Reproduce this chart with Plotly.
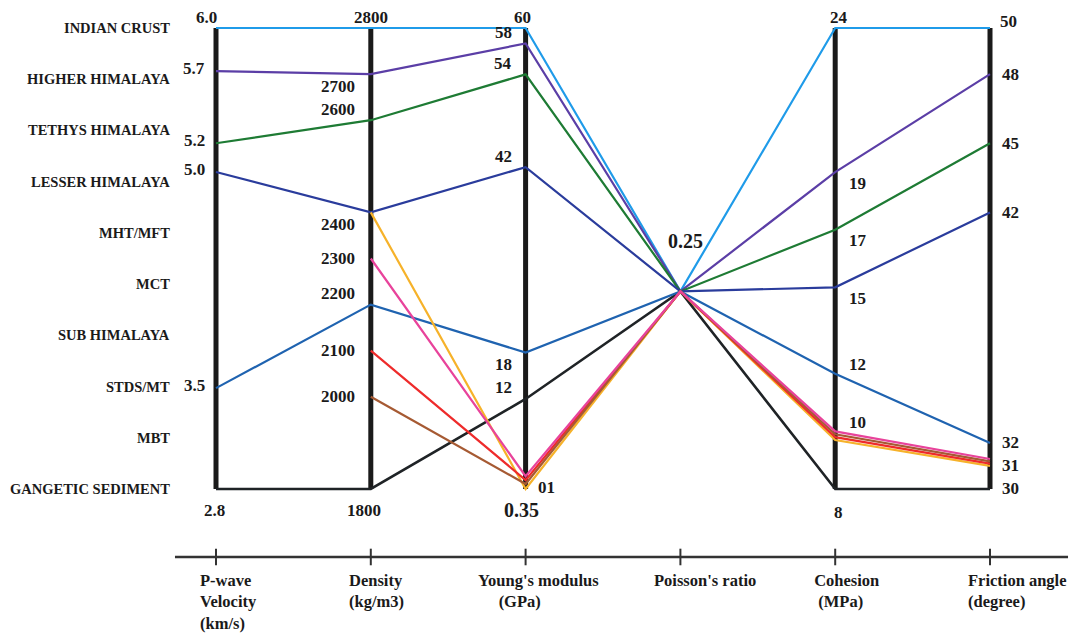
import plotly.graph_objects as go

# ---------------- data ----------------
units = ["INDIAN CRUST", "HIGHER HIMALAYA", "TETHYS HIMALAYA", "LESSER HIMALAYA",
         "MHT/MFT", "MCT", "SUB HIMALAYA", "STDS/MT", "MBT", "GANGETIC SEDIMENT"]

p_wave = [6.0, 5.7, 5.2, 5.0, None, None, 3.5, None, None, 2.8]
density = [2800, 2700, 2600, 2400, 2400, 2300, 2200, 2100, 2000, 1800]
youngs = [60, 58, 54, 42, 0.35, 2.0, 18, 1.5, 1.0, 12]
poisson = [0.25, 0.25, 0.25, 0.25, 0.25, 0.25, 0.25, 0.25, 0.25, 0.25]
cohesion = [24, 19, 17, 15, 9.7, 10.0, 12, 9.8, 9.9, 8]
friction = [50, 48, 45, 42, 31.0, 31.3, 32, 31.1, 31.2, 30]

axis_titles = ["P-wave<br>Velocity<br>(km/s)", "Density<br>(kg/m3)",
               "Young's modulus<br>&nbsp;&nbsp;&nbsp;&nbsp;&nbsp;(GPa)", "Poisson's ratio",
               "&nbsp;Cohesion<br>&nbsp;&nbsp;(MPa)", "Friction angle<br>(degree)"]
axis_min = [2.8, 1800, 0.35, 0.10, 8, 30]
axis_max = [6.0, 2800, 60, 0.45, 24, 50]

pwave_ticks = [6.0, 5.7, 5.2, 5.0, 3.5, 2.8]
pwave_text = ["6.0", "5.7", "5.2", "5.0", "3.5", "2.8"]
density_ticks = [2800, 2700, 2600, 2400, 2300, 2200, 2100, 2000, 1800]
density_text = ["2800", "2700", "2600", "2400", "2300", "2200", "2100", "2000", "1800"]
youngs_ticks = [60, 58, 54, 42, 18, 12, 1.0, 0.35]
youngs_text = ["60", "58", "54", "42", "18", "12", "01", "0.35"]
poisson_ticks = [0.25]
poisson_text = ["0.25"]
cohesion_ticks = [24, 19, 17, 15, 12, 10, 8]
cohesion_text = ["24", "19", "17", "15", "12", "10", "8"]
friction_ticks = [50, 48, 45, 42, 32, 31, 30]
friction_text = ["50", "48", "45", "42", "32", "31", "30"]

# ---------------- styles ----------------
colors = ["#1f9be9", "#5b3ea6", "#1e7b34", "#2a3c9c", "#f6b22a",
          "#e8439b", "#1f63b0", "#ee2b2b", "#a65a33", "#1f2326"]
FONT = "Liberation Serif"
INK = "#1a1a1a"

dims = [p_wave, density, youngs, poisson, cohesion, friction]
ticks = [pwave_ticks, density_ticks, youngs_ticks, poisson_ticks, cohesion_ticks, friction_ticks]
tick_texts = [pwave_text, density_text, youngs_text, poisson_text, cohesion_text, friction_text]


def scale(k, v):
    if v is None:
        return None
    return (v - axis_min[k]) / (axis_max[k] - axis_min[k])


def incoming_from_above(k, v):
    """True if the line reaching value v on axis k comes from a higher point on axis k-1."""
    for i in range(len(units)):
        if dims[k][i] == v and dims[k - 1][i] is not None:
            return scale(k - 1, dims[k - 1][i]) >= scale(k, v)
    return None


fig = go.Figure()

# lines (black sediment first so coloured lines sit on top)
order = [9, 0, 1, 2, 3, 6, 4, 7, 8, 5]
for i in order:
    fig.add_trace(go.Scatter(
        x=list(range(len(dims))),
        y=[scale(k, dims[k][i]) for k in range(len(dims))],
        mode="lines",
        line=dict(color=colors[i], width=2.6 if i == 9 else 2.2),
        name=units[i],
        connectgaps=False,
        hoverinfo="name",
    ))

shapes = []
# vertical axes (no visible axis for Poisson's ratio)
for k in [0, 1, 2, 4, 5]:
    shapes.append(dict(type="line", xref="x", yref="y", x0=k, x1=k, y0=0, y1=1,
                       line=dict(color=INK, width=5), layer="below"))

# bottom category axis
BASE = -0.1475
shapes.append(dict(type="line", xref="x", yref="y", x0=-0.265, x1=5.504, y0=BASE, y1=BASE,
                   line=dict(color="#333333", width=2.5)))
for k in range(len(dims)):
    shapes.append(dict(type="line", xref="x", yref="y", x0=k, x1=k,
                       y0=BASE - 0.018, y1=BASE + 0.018,
                       line=dict(color="#333333", width=2)))

annotations = []


def add_label(x, y, text, size=17, **kw):
    annotations.append(dict(x=x, y=y, xref="x", yref="y", text=text, showarrow=False,
                            font=dict(family=FONT, size=size, color=INK, weight="bold"), **kw))


for k in range(len(dims)):
    for v, t in zip(ticks[k], tick_texts[k]):
        n = scale(k, v)
        top = n >= 0.999
        bot = n <= 0.001
        if k == 0:
            if top:
                add_label(k, n, t, xanchor="center", yanchor="middle", xshift=-10, yshift=11)
            elif bot:
                add_label(k, n, t, xanchor="center", yanchor="top", xshift=-2, yshift=-10)
            else:
                add_label(k, n, t, xanchor="right", yanchor="middle", xshift=-9, yshift=3)
        elif k == 1:
            if top:
                add_label(k, n, t, xanchor="center", yanchor="middle", xshift=0, yshift=11)
            elif bot:
                add_label(k, n, t, xanchor="center", yanchor="top", xshift=-7, yshift=-10)
            else:
                above = incoming_from_above(k, v)
                if above is None:
                    dy = 0
                else:
                    dy = -12 if above else 11
                add_label(k, n, t, xanchor="right", yanchor="middle", xshift=-14, yshift=dy)
        elif k == 2:
            if top:
                add_label(k, n, t, xanchor="center", yanchor="middle", xshift=-3, yshift=11)
            elif bot:
                add_label(k, n, t, size=20, xanchor="center", yanchor="top", xshift=-4, yshift=-8)
            elif n < 0.1:
                add_label(k, n, t, xanchor="left", yanchor="middle", xshift=10, yshift=-4)
            else:
                above = incoming_from_above(k, v)
                add_label(k, n, t, xanchor="right", yanchor="middle", xshift=-12,
                          yshift=-12 if above else 11)
        elif k == 3:
            add_label(k, n, t, size=20, xanchor="center", yanchor="middle", xshift=5, yshift=50)
        elif k == 4:
            if top:
                add_label(k, n, t, xanchor="center", yanchor="middle", xshift=4, yshift=11)
            elif bot:
                add_label(k, n, t, xanchor="center", yanchor="top", xshift=3, yshift=-12)
            else:
                idx = [i for i in range(len(units)) if cohesion[i] == v][0]
                rising = scale(5, friction[idx]) > n
                add_label(k, n, t, xanchor="left", yanchor="middle", xshift=12,
                          yshift=-11 if rising else 9)
        else:
            if top:
                add_label(k, n, t, xanchor="left", yanchor="middle", xshift=8, yshift=7)
            else:
                add_label(k, n, t, xanchor="left", yanchor="middle", xshift=10, yshift=0)

# unit names, listed down the left side
for j, name in enumerate(units):
    add_label(0, 1 - j / (len(units) - 1), name, size=14.5, xanchor="right",
              yanchor="middle", xshift=-44)

# axis titles under the baseline
title_shift = [-18, -24, -50, -28, -27, -24]
for k, t in enumerate(axis_titles):
    annotations.append(dict(x=k, y=BASE, xref="x", yref="y", text=t, showarrow=False,
                            xanchor="left", yanchor="top", align="left",
                            xshift=title_shift[k], yshift=-12,
                            font=dict(family=FONT, size=16.5, color=INK, weight="bold")))

# page has an 8px body margin, so the figure is 16px smaller than the window
fig.update_layout(
    width=1075, height=625,
    margin=dict(l=0, r=0, t=0, b=0),
    paper_bgcolor="white", plot_bgcolor="white",
    showlegend=False,
    xaxis=dict(range=[-1.3437, 5.6008], visible=False, fixedrange=True),
    yaxis=dict(range=[-0.3124, 1.0434], visible=False, fixedrange=True),
    shapes=shapes,
    annotations=annotations,
)

fig.write_html("out.html")
